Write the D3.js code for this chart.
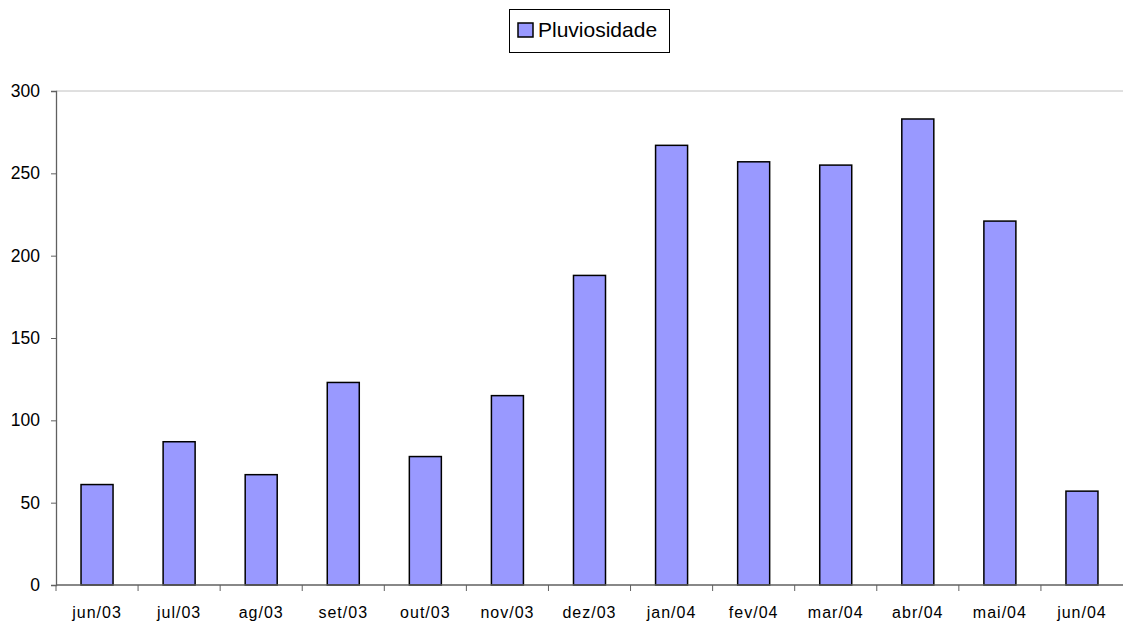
<!DOCTYPE html>
<html><head><meta charset="utf-8">
<script src="https://cdn.jsdelivr.net/npm/d3@7"></script>
<style>body{margin:0;background:#fff}svg{display:block}text{font-family:"Liberation Sans",Arial,sans-serif}</style>
</head><body>
<svg id="c" width="1123" height="624"></svg>
<script>
const categories = ["jun/03","jul/03","ag/03","set/03","out/03","nov/03","dez/03","jan/04","fev/04","mar/04","abr/04","mai/04","jun/04"];
const pluviosidade = [61,87,67,123,78,115,188,267,257,255,283,221,57];
const yTicks = [0,50,100,150,200,250,300];
const seriesName = "Pluviosidade";

const svg = d3.select("#c");
const mLeft = 56, mRight = 1123, mTop = 91, mBottom = 585;
const x = d3.scaleBand().domain(categories).range([mLeft, mRight]).paddingInner(0.61).paddingOuter(0.305);
const xb = d3.scaleBand().domain(categories).range([mLeft, mRight]);
const y = d3.scaleLinear().domain([0,300]).range([mBottom, mTop]);

// top gridline
svg.append("line").attr("x1", mLeft).attr("x2", mRight).attr("y1", y(300)).attr("y2", y(300))
  .attr("stroke", "#c0c0c0").attr("stroke-width", 1);

// bars
svg.append("g").selectAll("rect").data(pluviosidade).join("rect")
  .attr("x", (d,i) => x(categories[i]))
  .attr("width", x.bandwidth())
  .attr("y", d => y(d))
  .attr("height", d => y(0) - y(d))
  .attr("fill", "#9999FF").attr("stroke", "#000").attr("stroke-width", 1.5);

// y axis
const ya = svg.append("g").attr("transform", `translate(${mLeft},0)`)
  .call(d3.axisLeft(y).tickValues(yTicks).tickSize(5).tickPadding(11));
ya.select(".domain").attr("stroke", "#606060").attr("stroke-width", 1.3);
ya.selectAll(".tick line").attr("stroke", "#606060");
ya.selectAll("text").attr("font-size", 17.5).attr("fill", "#000").attr("font-family", "'Liberation Sans',Arial,sans-serif");

// x axis
const xa = svg.append("g").attr("transform", `translate(0,${mBottom})`);
xa.append("line").attr("x1", mLeft).attr("x2", mRight).attr("stroke", "#606060").attr("stroke-width", 1.3);
xa.selectAll("line.t").data(categories).join("line").attr("class","t")
  .attr("x1", d => xb(d)).attr("x2", d => xb(d)).attr("y1", 0).attr("y2", 6)
  .attr("stroke", "#606060");
xa.selectAll("text").data(categories).join("text")
  .attr("x", d => xb(d) + xb.bandwidth()/2)
  .attr("y", 33).attr("text-anchor", "middle").attr("font-size", 16).attr("letter-spacing", 1).text(d => d);

// legend
const lg = svg.append("g");
lg.append("rect").attr("x", 509.5).attr("y", 9.5).attr("width", 160).attr("height", 43)
  .attr("fill", "#fff").attr("stroke", "#000").attr("stroke-width", 1);
lg.append("rect").attr("x", 518).attr("y", 23).attr("width", 15).attr("height", 14)
  .attr("fill", "#9999FF").attr("stroke", "#000").attr("stroke-width", 1.5);
lg.append("text").attr("x", 538).attr("y", 37).attr("font-size", 21).text(seriesName);
</script>
</body></html>
